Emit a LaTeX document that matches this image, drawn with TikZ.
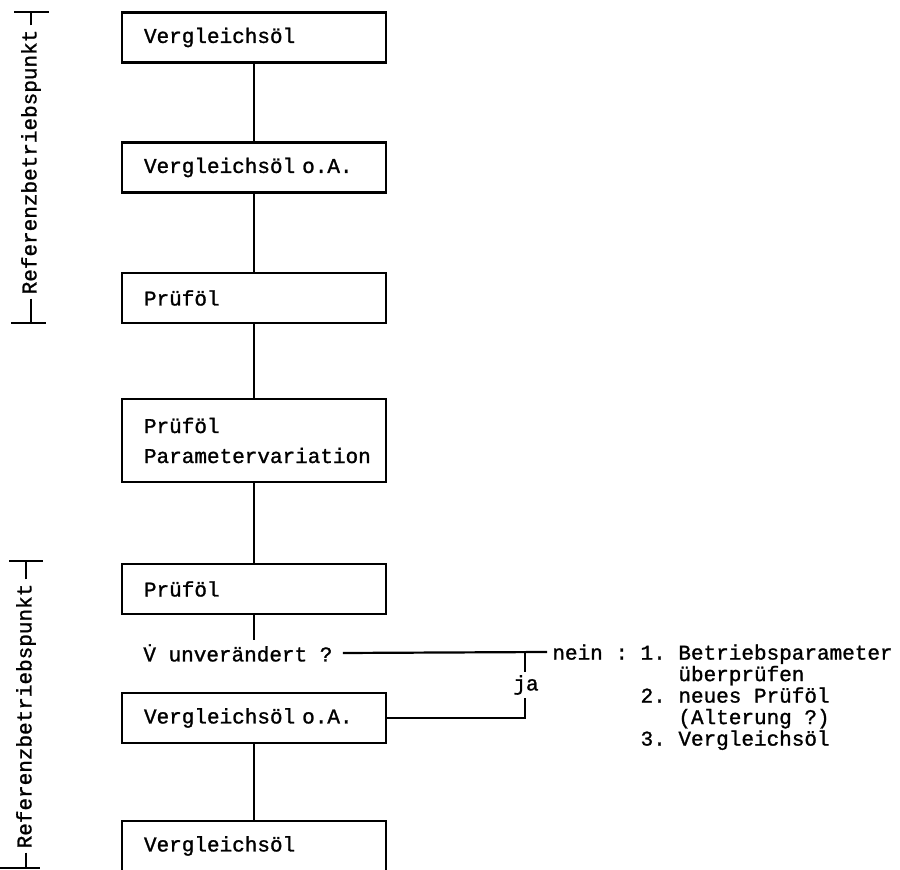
\documentclass[tikz,border=0pt]{standalone}
\usepackage{fontspec}
\newfontfamily\tw[WordSpace={1,0,0},FakeBold=1.2]{Liberation Mono}
\begin{document}
\frenchspacing
\begin{tikzpicture}[x=0.5pt,y=-0.5pt,
  every node/.style={font=\tw\frenchspacing\fontsize{10.5}{10.75}\selectfont},
  stepbox/.style={draw, line width=1.1pt, minimum width=132pt, minimum height=25pt,
    text width=110pt, inner xsep=11pt, inner ysep=0pt, align=left},
  link/.style={line width=1.1pt},
  bracket/.style={line width=1.1pt},
]
\useasboundingbox (0,0) rectangle (900,870);

% main sequence of test steps
\node[stepbox] (b1) at (254,37.5) {Vergleichsöl};
\node[stepbox] (b2) at (254,167.5) {Vergleichsöl o.A.};
\node[stepbox] (b3) at (254,298) {Prüföl};
\node[stepbox, minimum height=41.5pt] (b4) at (254,440.5) {Prüföl\\[4.25pt]Parametervariation};
\node[stepbox] (b5) at (254,589) {Prüföl};
\node[stepbox] (b6) at (254,718) {Vergleichsöl o.A.};
\node[stepbox] (b7) at (254,846) {Vergleichsöl};

% decision: V with combining dot above (volume flow)
\node[anchor=west, inner sep=0pt] (q) at (143,653) {V^^^^0307 unverändert ?};
\coordinate (qtop) at (254,640);
\coordinate (jn) at (547,652);
\coordinate (jt) at (525,652);
\node[inner xsep=0pt, inner ysep=1.5pt] (ja) at (526,685) {ja};
\node[anchor=north west, inner sep=0pt, align=left] (nein) at (552,644)
  {nein : 1. Betriebsparameter\\
   \phantom{nein : 1. }überprüfen\\
   \phantom{nein : }2. neues Prüföl\\
   \phantom{nein : 1. }(Alterung ?)\\
   \phantom{nein : }3. Vergleichsöl};

% connectors
\draw[link] (b1) -- (b2);
\draw[link] (b2) -- (b3);
\draw[link] (b3) -- (b4);
\draw[link] (b4) -- (b5);
\draw[link] (b5.south) -- (qtop);
\draw[link] ([xshift=5pt]q.east) -- (jn);
\draw[link] (jt) -- (ja.north -| jt);
\draw[link] (ja.south -| jt) |- (b6.east);
\draw[link] (b6) -- (b7);

% reference operating point brackets
\node[rotate=90, inner sep=2pt] (ref1) at (31,162) {Referenzbetriebspunkt};
\draw[bracket] (ref1.east) -- (ref1.east |- 0,12);
\draw[bracket] (ref1.east |- 0,12) ++(-17,0) -- ++(35,0);
\draw[bracket] (ref1.west) -- (ref1.west |- 0,323);
\draw[bracket] (ref1.west |- 0,323) ++(-20,0) -- ++(35,0);

\node[rotate=90, inner sep=2pt] (ref2) at (26,716) {Referenzbetriebspunkt};
\draw[bracket] (ref2.east) -- (ref2.east |- 0,561);
\draw[bracket] (ref2.east |- 0,561) ++(-17,0) -- ++(34,0);
\draw[bracket] (ref2.west) -- (ref2.west |- 0,868);
\draw[bracket] (ref2.west |- 0,868) ++(-26,0) -- ++(40,0);
\end{tikzpicture}
\end{document}
